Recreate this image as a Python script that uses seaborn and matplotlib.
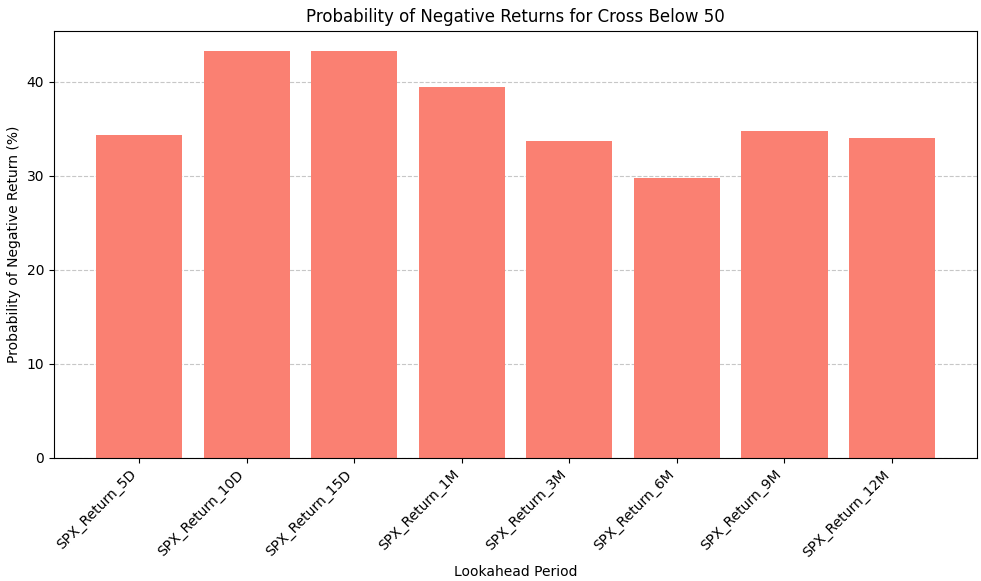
import matplotlib
matplotlib.use("Agg")
import matplotlib.pyplot as plt
import seaborn as sns

# lookahead periods and probability of a negative return (%)
periods = ["SPX_Return_5D", "SPX_Return_10D", "SPX_Return_15D", "SPX_Return_1M",
           "SPX_Return_3M", "SPX_Return_6M", "SPX_Return_9M", "SPX_Return_12M"]
prob_negative = [34.29, 43.23, 43.23, 39.40, 33.65, 29.72, 34.72, 33.97]

fig, ax = plt.subplots(figsize=(9.81, 5.81), dpi=100)
sns.barplot(x=periods, y=prob_negative, color="salmon", saturation=1, width=0.8, ax=ax)
ax.set_title("Probability of Negative Returns for Cross Below 50")
ax.set_xlabel("Lookahead Period")
ax.set_ylabel("Probability of Negative Return (%)")
plt.xticks(rotation=45, ha="right")
ax.grid(axis="y", linestyle="--", alpha=0.7)
ax.set_axisbelow(True)

# plain matplotlib-style 5% side margins instead of seaborn's tight limits
span = len(periods) - 1 + 0.8
ax.set_xlim(-0.4 - 0.05 * span, len(periods) - 1 + 0.4 + 0.05 * span)

plt.subplots_adjust(left=0.055, right=0.996, top=0.947, bottom=0.212)
plt.savefig("out.png", dpi=100)
